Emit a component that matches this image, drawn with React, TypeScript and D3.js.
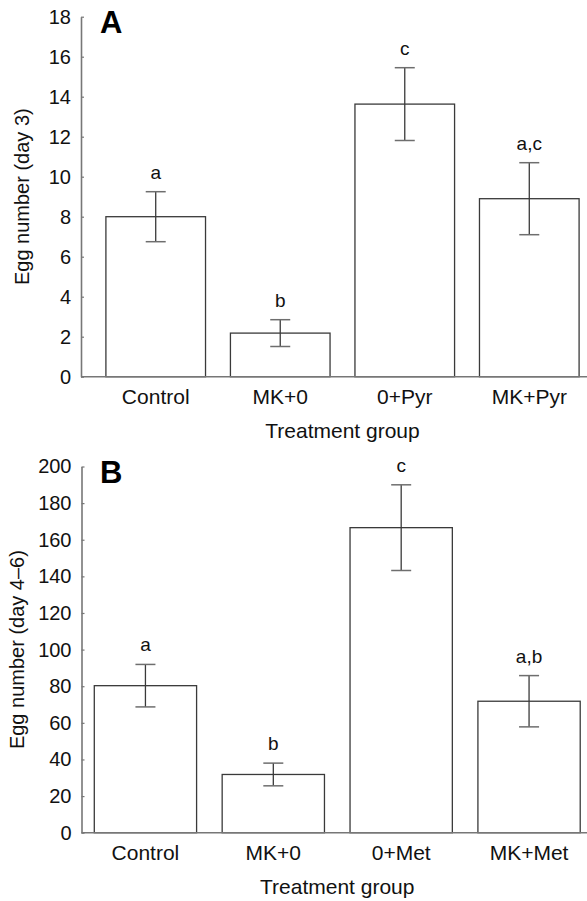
import React, { useEffect, useRef } from 'react';
import * as d3 from 'd3';

// panel A: egg number on day 3
const groupsA = ['Control', 'MK+0', '0+Pyr', 'MK+Pyr'];
const meansA = [8.0, 2.18, 13.63, 8.9];
const errA = [1.25, 0.67, 1.82, 1.8];
const lettersA = ['a', 'b', 'c', 'a,c'];
const ticksA = [0, 2, 4, 6, 8, 10, 12, 14, 16, 18];

// panel B: egg number days 4-6
const groupsB = ['Control', 'MK+0', '0+Met', 'MK+Met'];
const meansB = [80.3, 31.8, 166.6, 71.8];
const errB = [11.6, 6.2, 23.4, 14.0];
const lettersB = ['a', 'b', 'c', 'a,b'];
const ticksB = [0, 20, 40, 60, 80, 100, 120, 140, 160, 180, 200];

const FONT = '"Liberation Sans", Arial, Helvetica, sans-serif';
const W = 587;
const H = 901;

const App = () => {
  const ref = useRef<SVGSVGElement>(null);

  useEffect(() => {
    const svg = d3.select(ref.current);
    svg.selectAll('*').remove();

    const panels = [
      {
        tag: 'A', groups: groupsA, means: meansA, errs: errA, letters: lettersA, ticks: ticksA,
        yMax: 18, top: 16.7, bottom: 376.7, x0: 81, x1: 604, outer: 0.2,
        title: 'Egg number (day 3)', titleX: 29, tagY: 32.5,
      },
      {
        tag: 'B', groups: groupsB, means: meansB, errs: errB, letters: lettersB, ticks: ticksB,
        yMax: 200, top: 466.5, bottom: 832.7, x0: 81.5, x1: 593, outer: 0.1,
        title: 'Egg number (day 4\u20136)', titleX: 24, tagY: 483,
      },
    ];

    panels.forEach(p => {
      const g = svg.append('g').style('font-family', FONT);

      const x = d3.scaleBand<string>()
        .domain(p.groups)
        .range([p.x0, p.x1])
        .paddingInner(0.2)
        .paddingOuter(p.outer);

      const y = d3.scaleLinear()
        .domain([0, p.yMax])
        .range([p.bottom, p.top]);

      // bars
      g.selectAll('.bar')
        .data(p.means)
        .enter().append('rect')
        .attr('class', 'bar')
        .attr('x', (_, i) => x(p.groups[i])!)
        .attr('width', x.bandwidth())
        .attr('y', d => y(d))
        .attr('height', d => p.bottom - y(d))
        .attr('fill', 'white')
        .attr('stroke', '#3a3a3a')
        .attr('stroke-width', 1.3);

      // error bars
      p.means.forEach((m, i) => {
        const cx = x(p.groups[i])! + x.bandwidth() / 2;
        const hi = y(m + p.errs[i]);
        const lo = y(m - p.errs[i]);
        g.append('line')
          .attr('x1', cx).attr('x2', cx).attr('y1', hi).attr('y2', lo)
          .attr('stroke', '#3a3a3a').attr('stroke-width', 1.3);
        [hi, lo].forEach(yy => {
          g.append('line')
            .attr('x1', cx - 10).attr('x2', cx + 10).attr('y1', yy).attr('y2', yy)
            .attr('stroke', '#6e6e6e').attr('stroke-width', 1.5);
        });
        g.append('text')
          .attr('x', cx)
          .attr('y', hi - 13)
          .attr('text-anchor', 'middle')
          .attr('font-size', 19)
          .attr('fill', '#111')
          .text(p.letters[i]);
      });

      // x axis line
      g.append('line')
        .attr('x1', p.x0).attr('x2', W).attr('y1', p.bottom).attr('y2', p.bottom)
        .attr('stroke', '#777').attr('stroke-width', 1.6);

      // category labels
      g.selectAll('.cat')
        .data(p.groups)
        .enter().append('text')
        .attr('class', 'cat')
        .attr('x', d => x(d)! + x.bandwidth() / 2)
        .attr('y', p.bottom + 27.5)
        .attr('text-anchor', 'middle')
        .attr('font-size', 21)
        .attr('fill', '#111')
        .text(d => d);

      const bandMid = (x(p.groups[0])! + x(p.groups[3])! + x.bandwidth()) / 2;
      g.append('text')
        .attr('x', bandMid)
        .attr('y', p.bottom + 61)
        .attr('text-anchor', 'middle')
        .attr('font-size', 21)
        .attr('fill', '#111')
        .text('Treatment group');

      // y axis
      const yAxis = g.append('g')
        .attr('transform', `translate(${p.x0},0)`)
        .call(d3.axisLeft(y).tickValues(p.ticks).tickSizeInner(-3).tickSizeOuter(0).tickPadding(10));
      yAxis.select('.domain').attr('stroke', '#777').attr('stroke-width', 1.6);
      yAxis.selectAll('.tick line').attr('stroke', '#777').attr('stroke-width', 1.2);
      yAxis.selectAll('.tick text')
        .attr('font-size', 20)
        .attr('font-family', FONT)
        .attr('fill', '#111');

      g.append('text')
        .attr('transform', `translate(${p.titleX},${(p.top + p.bottom) / 2}) rotate(-90)`)
        .attr('text-anchor', 'middle')
        .attr('font-size', 20)
        .attr('fill', '#111')
        .text(p.title);

      // panel tag
      g.append('text')
        .attr('x', 100)
        .attr('y', p.tagY)
        .attr('font-size', 31)
        .attr('font-weight', 'bold')
        .attr('fill', '#000')
        .text(p.tag);
    });
  }, []);

  return (
    <svg
      ref={ref}
      width={W}
      height={H}
      style={{ position: 'absolute', left: 0, top: 0, background: 'white', display: 'block' }}
    />
  );
};

export default App;
